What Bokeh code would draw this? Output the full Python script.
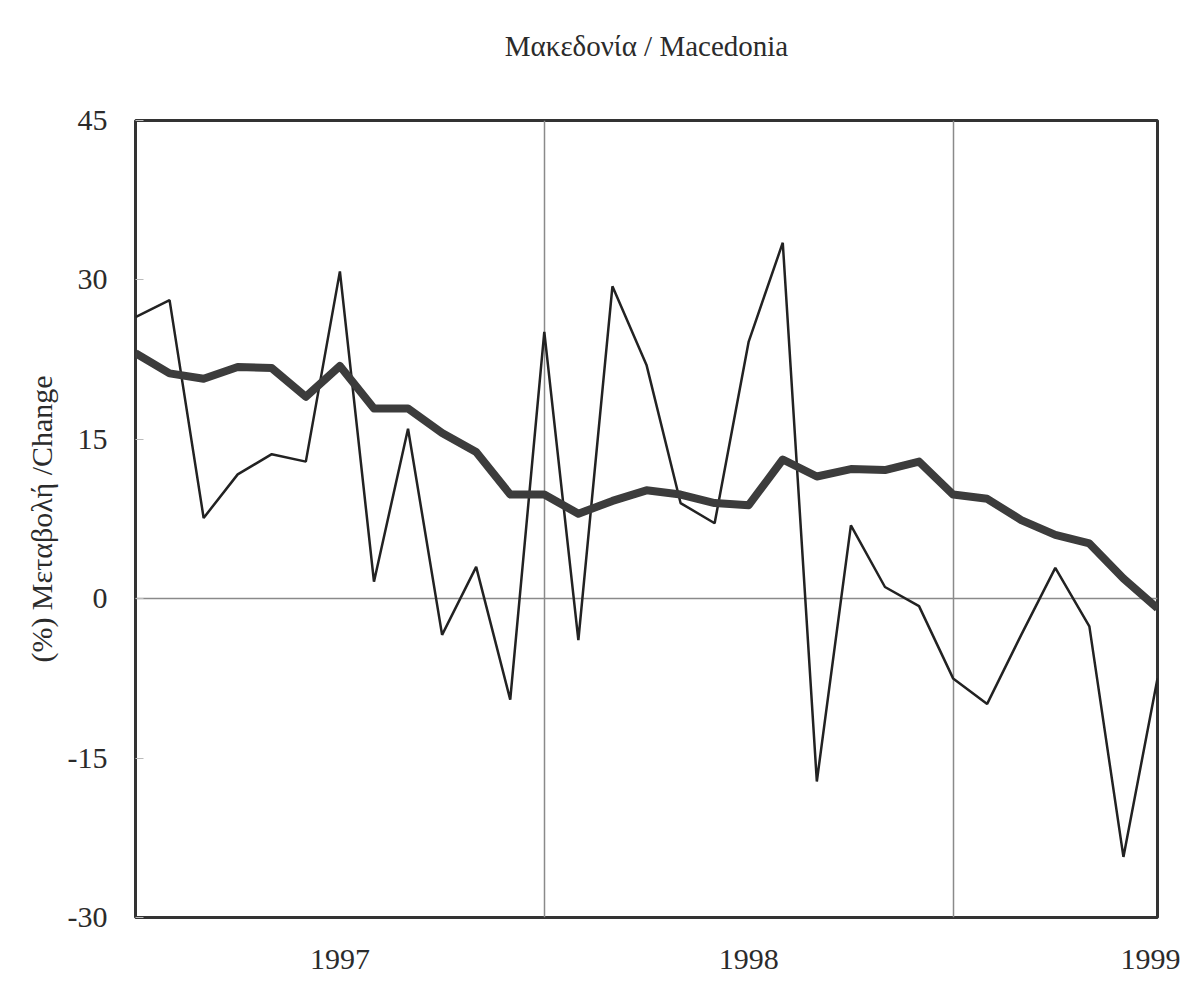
from bokeh.plotting import figure
from bokeh.models import Range1d, FixedTicker, Title
from bokeh.embed import file_html
from bokeh.resources import INLINE

months = list(range(31))
monthly_change = [26.5, 28.1, 7.6, 11.7, 13.6, 12.9, 30.8, 1.6, 16.0, -3.4, 3.0, -9.5,
                  25.1, -3.9, 29.4, 22.0, 9.0, 7.1, 24.2, 33.5, -17.2, 6.9, 1.1, -0.7,
                  -7.5, -9.9, -3.4, 2.9, -2.6, -24.3, -7.5]
trend_change = [23.1, 21.2, 20.7, 21.8, 21.7, 19.0, 21.9, 17.9, 17.9, 15.6, 13.8, 9.8,
                9.8, 8.0, 9.2, 10.2, 9.8, 9.0, 8.8, 13.1, 11.5, 12.2, 12.1, 12.9,
                9.8, 9.4, 7.4, 6.0, 5.2, 1.9, -0.9]
year_ticks = [6, 18, 30]
year_labels = ["1997", "1998", "1999"]
y_ticks = [-30, -15, 0, 15, 30, 45]
y_tick_labels = ["-30", "-15", "0", "15", "30", "45"]
title_text = "Μακεδονία / Macedonia"
y_title = "(%) Μεταβολή /Change"

FONT = "Liberation Serif"
TXT = "#2b2b2b"

p = figure(width=1180, height=983, output_backend="svg", toolbar_location=None,
           x_range=Range1d(0, 30), y_range=Range1d(-30, 45),
           min_border_left=135, min_border_right=23, min_border_top=120, min_border_bottom=66)
p.background_fill_color = "white"
p.border_fill_color = "white"
p.outline_line_color = "#333333"
p.outline_line_width = 3
p.title.text = ""

# spacer between frame and title, then the title itself (stacked outward)
p.add_layout(Title(text=" ", text_font_size="10px", standoff=46), "above")
p.add_layout(Title(text=title_text, align="center", text_font=FONT, text_font_style="normal",
                   text_font_size="29px", text_color=TXT, standoff=0), "above")

# grids
p.xgrid.ticker = FixedTicker(ticks=[12, 24])
p.ygrid.ticker = FixedTicker(ticks=[0])
for g in (p.xgrid, p.ygrid):
    g.grid_line_color = "#8a8a8a"
    g.grid_line_width = 1.5

# axes
p.yaxis.ticker = FixedTicker(ticks=y_ticks)
p.yaxis.major_label_overrides = {t: l for t, l in zip(y_ticks, y_tick_labels)}
p.xaxis.ticker = FixedTicker(ticks=year_ticks)
p.xaxis.major_label_overrides = {t: l for t, l in zip(year_ticks, year_labels)}
for ax in (p.xaxis, p.yaxis):
    ax.axis_line_color = None
    ax.major_tick_out = 0
    ax.minor_tick_line_color = None
    ax.major_label_text_font = FONT
    ax.major_label_text_font_size = "30px"
    ax.major_label_text_color = TXT
p.yaxis.major_tick_in = 8
p.yaxis.major_tick_line_color = "#bbbbbb"
p.xaxis.major_tick_in = 0
p.xaxis.major_tick_line_color = None
p.yaxis.major_label_standoff = 28
p.xaxis.major_label_standoff = 32
p.yaxis.axis_label = y_title
p.yaxis.axis_label_text_font = FONT
p.yaxis.axis_label_text_font_style = "normal"
p.yaxis.axis_label_text_font_size = "30px"
p.yaxis.axis_label_text_color = TXT
p.yaxis.axis_label_standoff = 7

p.line(months, monthly_change, line_color="#222222", line_width=2.5)
p.line(months, trend_change, line_color="#3c3c3c", line_width=8, line_join="round")

open("out.html", "w").write(file_html(p, INLINE))
